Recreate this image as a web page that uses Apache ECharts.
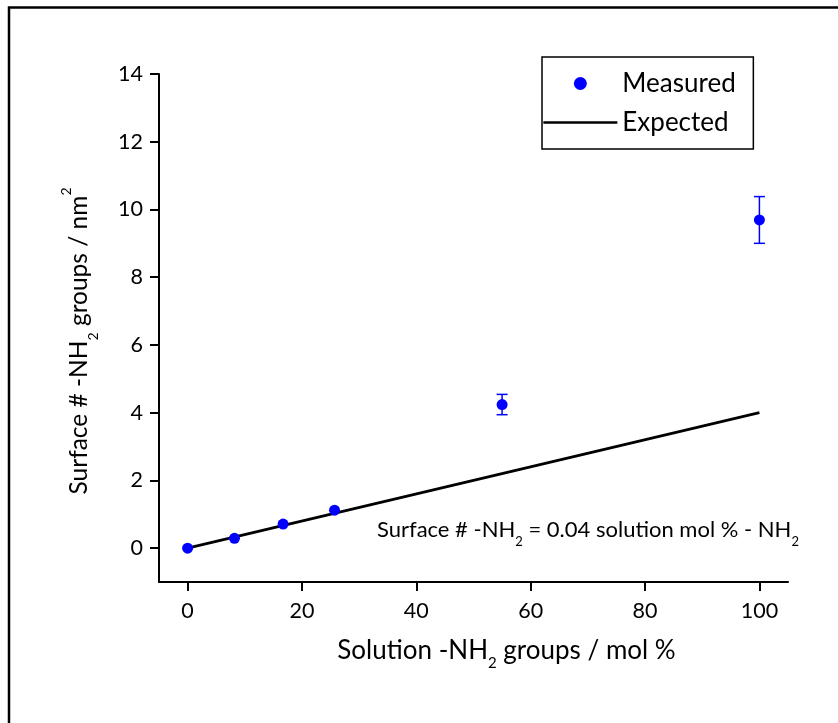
<!DOCTYPE html>
<html>
<head>
<meta charset="utf-8">
<script src="https://cdn.jsdelivr.net/npm/echarts@6/dist/echarts.min.js"></script>
<style>
html,body{margin:0;padding:0;background:#fff;}
#chart{width:838px;height:723px;}
</style>
</head>
<body>
<div id="chart"></div>
<script>
// ---- data ----
var solutionPct   = [0, 8.2, 16.7, 25.7, 55, 100];
var measuredNH2   = [0, 0.29, 0.71, 1.12, 4.24, 9.69];
var measuredErr   = [0, 0, 0, 0, 0.30, 0.69];
var expectedX     = [0, 100];
var expectedY     = [0, 4];
var xTicks        = [0, 20, 40, 60, 80, 100];
var yTicks        = [0, 2, 4, 6, 8, 10, 12, 14];

var FONT = 'Lato';
var measuredData = solutionPct.map(function (x, i) { return [x, measuredNH2[i]]; });
var errData = solutionPct.map(function (x, i) { return [x, measuredNH2[i], measuredErr[i]]; });
var expectedData = expectedX.map(function (x, i) { return [x, expectedY[i]]; });

function richSet(size, subSize, L) {
  return {
    a: { fontFamily: FONT, fontSize: size, color: '#000', lineHeight: L },
    s: { fontFamily: FONT, fontSize: subSize, color: '#000', lineHeight: subSize + 1, verticalAlign: 'bottom' },
    p: { fontFamily: FONT, fontSize: subSize, color: '#000', lineHeight: subSize + 1, verticalAlign: 'top' }
  };
}

var chart = echarts.init(document.getElementById('chart'), null, { renderer: 'canvas' });
var option = {
  backgroundColor: '#fff',
  animation: false,
  grid: { left: 159, right: 50, top: 74, bottom: 141, containLabel: false },
  legend: {
    left: 542, top: 57,
    orient: 'vertical',
    data: [{ name: 'Measured', icon: 'circle' }, { name: 'Expected', itemStyle: { opacity: 0 } }],
    itemWidth: 74, itemHeight: 13, itemGap: 13,
    padding: [13.5, 13, 13.5, 0],
    borderColor: '#000', borderWidth: 1.5,
    lineStyle: { width: 2.7, color: '#000', opacity: 1 },
    textStyle: { fontFamily: FONT, fontSize: 26, color: '#000', lineHeight: 26, width: 118, overflow: 'none' }
  },
  xAxis: {
    type: 'value', min: -5, max: 105,
    name: '{a|Solution -NH}{s|2}{a| groups / mol %}',
    nameLocation: 'middle', nameGap: 48,
    nameTextStyle: { rich: richSet(26, 15, 41), padding: [0, 0, 0, 66] },
    axisLine: { show: true, onZero: false, lineStyle: { color: '#000', width: 2 } },
    axisTick: { show: true, inside: false, length: 9, customValues: xTicks, lineStyle: { color: '#000', width: 2 } },
    axisLabel: { customValues: xTicks, fontFamily: FONT, fontSize: 21.5, color: '#000', margin: 18 },
    splitLine: { show: false }
  },
  yAxis: {
    type: 'value', min: -1, max: 14,
    name: '{a|Surface # -NH}{s|2}{a| groups / nm}{p|2}',
    nameLocation: 'middle', nameGap: 59,
    nameTextStyle: { rich: richSet(24.5, 14, 41), padding: [0, 26, 0, 0] },
    axisLine: { show: true, onZero: false, lineStyle: { color: '#000', width: 2 } },
    axisTick: { show: true, inside: false, length: 9, customValues: yTicks, lineStyle: { color: '#000', width: 2 } },
    axisLabel: { customValues: yTicks, fontFamily: FONT, fontSize: 21.5, color: '#000', margin: 16 },
    splitLine: { show: false }
  },
  series: [
    {
      name: 'Expected', type: 'line', data: expectedData,
      symbol: 'none', showSymbol: false,
      lineStyle: { color: '#000', width: 2.7 },
      itemStyle: { color: 'rgba(0,0,0,0)' },
      z: 2
    },
    {
      name: 'errorbars', type: 'custom', data: errData,
      encode: { x: 0, y: 1 },
      renderItem: function (params, api) {
        var x = api.value(0), y = api.value(1), e = api.value(2);
        if (!e) return null;
        var t = api.coord([x, y + e]);
        var b = api.coord([x, y - e]);
        var h = 5.5;
        var st = { stroke: '#0000ff', lineWidth: 1.5 };
        return {
          type: 'group',
          children: [
            { type: 'line', shape: { x1: t[0], y1: t[1], x2: b[0], y2: b[1] }, style: st },
            { type: 'line', shape: { x1: t[0] - h, y1: t[1], x2: t[0] + h, y2: t[1] }, style: st },
            { type: 'line', shape: { x1: b[0] - h, y1: b[1], x2: b[0] + h, y2: b[1] }, style: st }
          ]
        };
      },
      z: 3
    },
    {
      name: 'Measured', type: 'scatter', data: measuredData,
      symbol: 'circle', symbolSize: 11,
      itemStyle: { color: '#0000ff', opacity: 1 },
      z: 4
    }
  ],
  graphic: [
    {
      type: 'rect', silent: true, z: 100,
      shape: { x: 9, y: 7.5, width: 1000, height: 1000 },
      style: { fill: 'none', stroke: '#000', lineWidth: 2.5 }
    },
    {
      type: 'text', silent: true, z: 100,
      x: 377, y: 530,
      style: {
        text: '{a|Surface # -NH}{s|2}{a| = 0.04 solution mol % - NH}{s|2}',
        rich: richSet(22, 13, 37),
        verticalAlign: 'middle', align: 'left'
      }
    }
  ]
};
chart.setOption(option);
</script>
</body>
</html>
